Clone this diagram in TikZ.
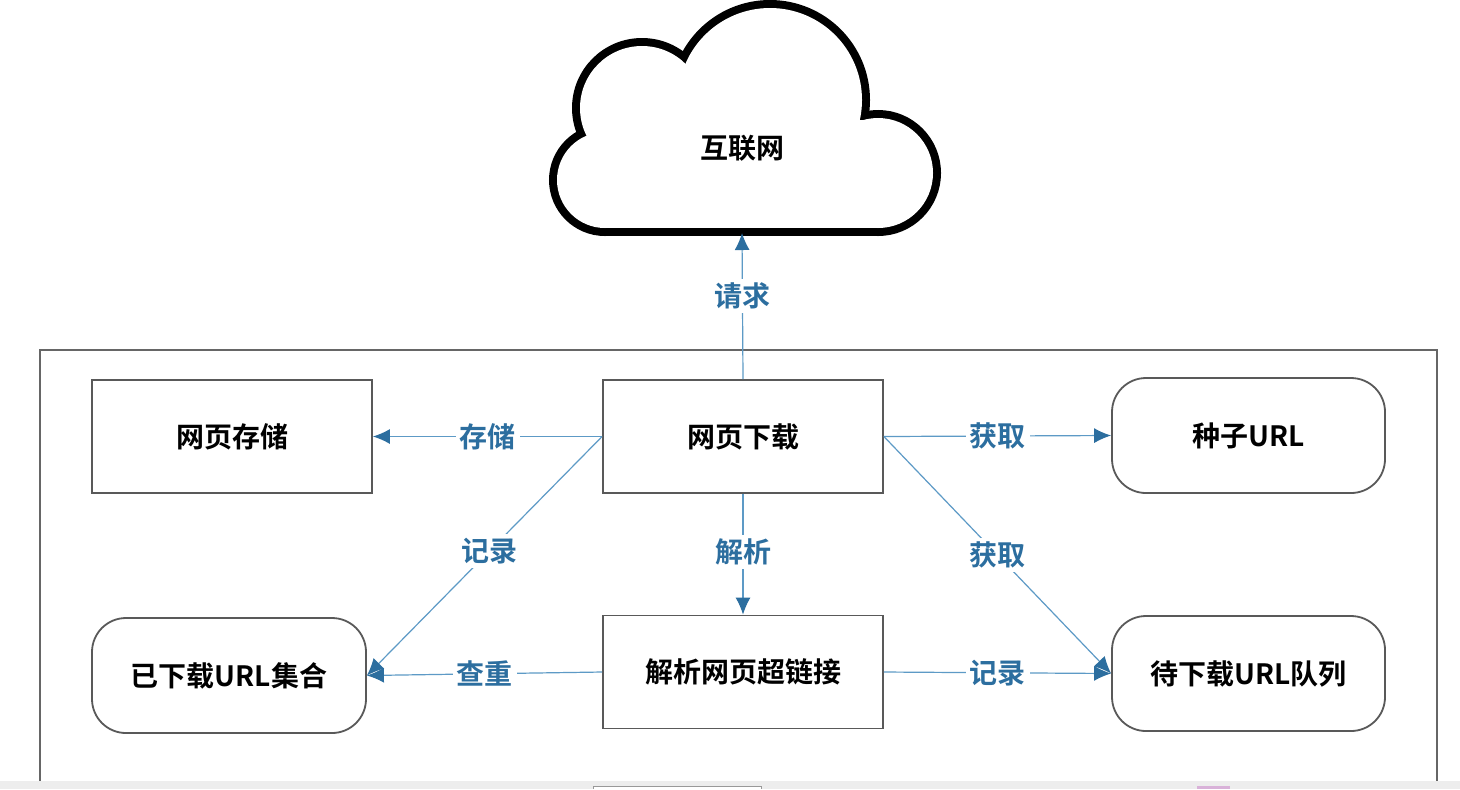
\documentclass[tikz,border=0pt]{standalone}
\usepackage{fontspec}
\setmainfont{Noto Sans CJK SC}[BoldFont={Noto Sans CJK SC Bold}]
\usetikzlibrary{arrows.meta}
\definecolor{arr}{HTML}{2C6E9F}
\definecolor{lin}{HTML}{5D9AC6}
\begin{document}
\begin{tikzpicture}[x=0.5pt,y=-0.5pt,
  box/.style={draw=black!65,line width=0.9pt,minimum width=140pt,minimum height=56.5pt,inner sep=0pt,font=\fontsize{14}{16}\selectfont\bfseries},
  rbox/.style={box,rounded corners=17pt},
  con/.style={draw=lin,line width=0.6pt,-{Latex[length=8.5pt,width=7.5pt,color=arr]}},
  lab/.style={fill=white,text=arr,inner sep=2pt,font=\fontsize{14}{16}\selectfont\bfseries},
  cl/.style={line width=8pt,draw=black}]
\useasboundingbox (0,0) rectangle (1460,789);
\fill[white] (0,0) rectangle (1460,789);
% outer frame
\draw[black!60,line width=1pt] (40,781) -- (40,350) -- (1437,350) -- (1437,781);
% bottom strip
\fill[black!7] (0,781) rectangle (1460,789);
\draw[black!40,fill=white,line width=0.5pt] (593,789) -- (593,786) -- (761,786) -- (761,789);
\fill[violet!30] (1197,786) rectangle (1230,789);
% cloud (union of shapes: outline then white fill)
\draw[cl] (605,180) circle (48);
\draw[cl] (642,108) circle (62);
\draw[cl] (770,100) circle (92);
\draw[cl] (878,173) circle (55);
\draw[cl] (605,228) -- (878,228);
\fill[white] (605,180) circle (48);
\fill[white] (642,108) circle (62);
\fill[white] (770,100) circle (92);
\fill[white] (878,173) circle (55);
\fill[white] (605,120) rectangle (878,228);
\node[font=\fontsize{14}{16}\selectfont\bfseries] (net) at (742,148) {互联网};
\coordinate (cloudb) at (742,233);
% boxes
\node[box] (store) at (232,436.5) {网页存储};
\node[box] (down) at (743,436.5) {网页下载};
\node[rbox,minimum width=136.5pt,minimum height=57.5pt] (seed) at (1248.5,435.5) {种子URL};
\node[rbox,minimum width=137pt,minimum height=57.5pt] (done) at (229,675.5) {已下载URL集合};
\node[box] (parse) at (743,672) {解析网页超链接};
\node[rbox,minimum width=136.5pt,minimum height=57.5pt] (queue) at (1248.5,673.5) {待下载URL队列};
% connectors
\draw[con] (down.north) -- node[lab,pos=0.57]{请求} (cloudb);
\draw[con] (down.west) -- node[lab,pos=0.5]{存储} (store.east);
\draw[con] (down.east) -- node[lab,pos=0.5]{获取} (seed.west);
\draw[con] (down.west) -- node[lab,pos=0.48]{记录} (done.east);
\draw[con] (down.south) -- node[lab,pos=0.48]{解析} (parse.north);
\draw[con] (down.east) -- node[lab,pos=0.5]{获取} (queue.west);
\draw[con] (parse.west) -- node[lab,pos=0.5]{查重} (done.east);
\draw[con] (parse.east) -- node[lab,pos=0.5]{记录} (queue.west);
\end{tikzpicture}
\end{document}
